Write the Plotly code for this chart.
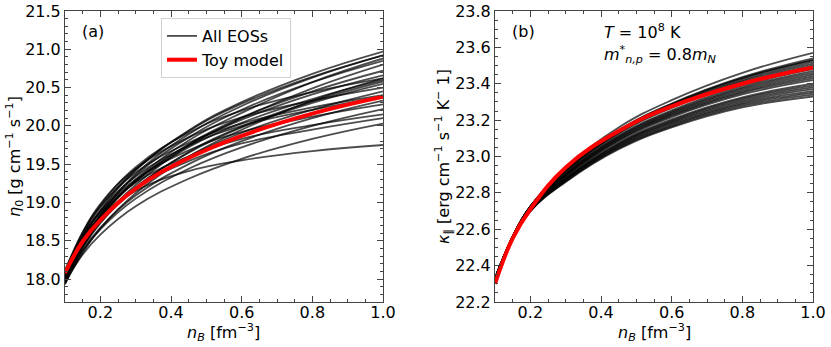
import plotly.graph_objects as go

# ---------------- data ----------------
n_B = [0.10, 0.15, 0.20, 0.30, 0.45, 0.60, 0.80, 1.00]

# panel (a): log10 shear viscosity eta_0, one list per EOS
eta_eos = [
    [18.00, 18.52, 18.89, 19.42, 19.94, 20.31, 20.68, 20.97],
    [17.95, 18.47, 18.84, 19.37, 19.89, 20.26, 20.63, 20.92],
    [18.05, 18.47, 18.81, 19.30, 19.81, 20.17, 20.57, 20.88],
    [17.98, 18.49, 18.84, 19.35, 19.85, 20.21, 20.57, 20.85],
    [18.00, 18.42, 18.76, 19.23, 19.74, 20.10, 20.49, 20.80],
    [17.96, 18.45, 18.79, 19.28, 19.76, 20.11, 20.45, 20.72],
    [18.03, 18.49, 18.82, 19.28, 19.75, 20.08, 20.41, 20.66],
    [17.94, 18.34, 18.66, 19.12, 19.60, 19.95, 20.33, 20.62],
    [18.06, 18.51, 18.83, 19.27, 19.72, 20.04, 20.35, 20.60],
    [17.97, 18.42, 18.75, 19.20, 19.65, 19.98, 20.30, 20.55],
    [18.08, 18.61, 18.98, 19.44, 19.85, 20.11, 20.33, 20.50],
    [18.00, 18.43, 18.74, 19.17, 19.60, 19.91, 20.21, 20.45],
    [18.10, 18.61, 18.95, 19.39, 19.78, 20.03, 20.24, 20.40],
    [17.95, 18.37, 18.67, 19.09, 19.50, 19.80, 20.10, 20.33],
    [18.05, 18.54, 18.88, 19.30, 19.68, 19.92, 20.12, 20.28],
    [17.98, 18.37, 18.65, 19.05, 19.44, 19.72, 20.00, 20.22],
    [18.12, 18.57, 18.87, 19.26, 19.60, 19.83, 20.01, 20.15],
    [18.02, 18.48, 18.79, 19.19, 19.54, 19.77, 19.95, 20.10],
    [17.96, 18.32, 18.58, 18.95, 19.31, 19.57, 19.83, 20.03],
    [18.04, 18.50, 18.81, 19.15, 19.41, 19.55, 19.67, 19.75],
    [17.99, 18.57, 18.96, 19.46, 19.91, 20.20, 20.44, 20.62],
    [18.07, 18.57, 18.93, 19.43, 19.93, 20.29, 20.64, 20.92],
    [18.01, 18.53, 18.89, 19.34, 19.74, 20.00, 20.21, 20.38],
    [17.93, 18.40, 18.73, 19.19, 19.66, 19.99, 20.32, 20.58],
]
eta_toy = [18.08, 18.49, 18.77, 19.18, 19.58, 19.87, 20.16, 20.38]

# panel (b): log10 thermal conductivity kappa_par, one list per EOS
kap_eos = [
    [22.320, 22.560, 22.725, 22.940, 23.160, 23.310, 23.460, 23.57],
    [22.320, 22.560, 22.725, 22.930, 23.145, 23.291, 23.436, 23.54],
    [22.320, 22.560, 22.725, 22.926, 23.140, 23.285, 23.428, 23.53],
    [22.320, 22.560, 22.725, 22.923, 23.135, 23.279, 23.420, 23.52],
    [22.320, 22.560, 22.725, 22.920, 23.130, 23.273, 23.413, 23.51],
    [22.320, 22.560, 22.725, 22.917, 23.125, 23.267, 23.405, 23.50],
    [22.325, 22.555, 22.715, 22.910, 23.115, 23.254, 23.389, 23.48],
    [22.325, 22.555, 22.715, 22.903, 23.105, 23.241, 23.373, 23.46],
    [22.325, 22.555, 22.715, 22.900, 23.100, 23.235, 23.365, 23.45],
    [22.325, 22.555, 22.715, 22.897, 23.095, 23.229, 23.357, 23.44],
    [22.325, 22.555, 22.715, 22.894, 23.090, 23.223, 23.350, 23.43],
    [22.330, 22.555, 22.705, 22.890, 23.085, 23.216, 23.341, 23.42],
    [22.330, 22.555, 22.705, 22.883, 23.075, 23.204, 23.325, 23.40],
    [22.330, 22.555, 22.705, 22.877, 23.065, 23.192, 23.310, 23.38],
    [22.330, 22.555, 22.705, 22.874, 23.060, 23.186, 23.302, 23.37],
    [22.330, 22.550, 22.700, 22.870, 23.055, 23.179, 23.294, 23.36],
    [22.330, 22.550, 22.700, 22.867, 23.050, 23.172, 23.286, 23.35],
    [22.330, 22.550, 22.700, 22.863, 23.045, 23.166, 23.278, 23.34],
    [22.330, 22.550, 22.700, 22.860, 23.040, 23.160, 23.270, 23.33],
    [22.325, 22.555, 22.715, 22.906, 23.110, 23.247, 23.380, 23.47],
    [22.320, 22.560, 22.725, 22.928, 23.142, 23.288, 23.432, 23.53],
    [22.330, 22.555, 22.705, 22.880, 23.070, 23.198, 23.318, 23.39],
]
kap_toy = [22.30, 22.55, 22.71, 22.94, 23.14, 23.275, 23.40, 23.49]

x_ticks = [0.2, 0.4, 0.6, 0.8, 1.0]
x_ticklabels = ["0.2", "0.4", "0.6", "0.8", "1.0"]
y1_ticks = [18.0, 18.5, 19.0, 19.5, 20.0, 20.5, 21.0, 21.5]
y2_ticks = [22.2, 22.4, 22.6, 22.8, 23.0, 23.2, 23.4, 23.6, 23.8]

# ---------------- figure ----------------
FONT = "DejaVu Sans"
FS = 16
EOS_COLOR = "rgba(0,0,0,0.7)"
TOY_COLOR = "#ff0000"
W, H = 831, 347

fig = go.Figure()

for i, ys in enumerate(eta_eos):
    fig.add_trace(go.Scatter(x=n_B, y=ys, mode="lines",
                             line=dict(color=EOS_COLOR, width=1.8, shape="spline", smoothing=1.2),
                             name="All EOSs", showlegend=(i == 0), legendgroup="eos", xaxis="x", yaxis="y"))
fig.add_trace(go.Scatter(x=n_B, y=eta_toy, mode="lines",
                         line=dict(color=TOY_COLOR, width=4, shape="spline", smoothing=1.2),
                         name="Toy model", showlegend=True, xaxis="x", yaxis="y"))

for ys in kap_eos:
    fig.add_trace(go.Scatter(x=n_B, y=ys, mode="lines",
                             line=dict(color=EOS_COLOR, width=1.8, shape="spline", smoothing=1.2),
                             showlegend=False, xaxis="x2", yaxis="y2"))
fig.add_trace(go.Scatter(x=n_B, y=kap_toy, mode="lines",
                         line=dict(color=TOY_COLOR, width=4, shape="spline", smoothing=1.2),
                         showlegend=False, xaxis="x2", yaxis="y2"))

axis_common = dict(
    showline=True, linecolor="#444", linewidth=1, mirror="ticks",
    ticks="inside", ticklen=6, tickwidth=1, tickcolor="#444",
    showgrid=False, zeroline=False,
    tickfont=dict(family=FONT, size=FS, color="black"),
    automargin=False,
)
minor_x = dict(dtick=0.05, tick0=0, ticks="inside", ticklen=3, tickcolor="#444")

fig.update_layout(
    width=W, height=H,
    margin=dict(l=0, r=0, t=0, b=0),
    paper_bgcolor="white", plot_bgcolor="white",
    font=dict(family=FONT, size=FS, color="black"),
    xaxis=dict(domain=[65 / W, 383 / W], range=[0.1, 1.0], tickvals=x_ticks, ticktext=x_ticklabels,
               minor=minor_x, anchor="y", ticklabelstandoff=-4, **axis_common),
    yaxis=dict(domain=[1 - 302 / H, 1 - 11 / H], range=[17.7, 21.5], tickvals=y1_ticks,
               ticktext=[f"{v:.1f}" for v in y1_ticks],
               minor=dict(dtick=0.1, tick0=0, ticks="inside", ticklen=3, tickcolor="#444"),
               anchor="x", **axis_common),
    xaxis2=dict(domain=[495 / W, 813 / W], range=[0.1, 1.0], tickvals=x_ticks, ticktext=x_ticklabels,
                minor=minor_x, anchor="y2", ticklabelstandoff=-4, **axis_common),
    yaxis2=dict(domain=[1 - 302 / H, 1 - 11 / H], range=[22.2, 23.8], tickvals=y2_ticks,
                ticktext=[f"{v:.1f}" for v in y2_ticks],
                minor=dict(dtick=0.05, tick0=0, ticks="inside", ticklen=3, tickcolor="#444"),
                anchor="x2", **axis_common),
    legend=dict(x=161 / W, y=1 - 18 / H, xanchor="left", yanchor="top",
                bgcolor="rgba(255,255,255,0.9)", bordercolor="#d0d0d0", borderwidth=1,
                font=dict(family=FONT, size=FS), itemwidth=30, tracegroupgap=0),
)

xt = "<i>n</i><sub><i>B</i></sub> [fm<sup>−3</sup>]"
# (text, x px, y px, anchor, angle)
texts = [
    ("(a)", 80, 32, "left", 0),
    ("(b)", 510, 32, "left", 0),
    ("<i>T</i> = 10<sup>8</sup> K", 602, 32, "left", 0),
    ("<i>m</i><sup>*</sup><sub><i>n,p</i></sub> = 0.8<i>m</i><sub><i>N</i></sub>", 602, 54, "left", 0),
    (xt, 224, 332, "center", 0),
    (xt, 654, 332, "center", 0),
    ("<i>η</i><sub>0</sub> [g cm<sup>−1</sup> s<sup>−1</sup>]", 15, 157, "center", -90),
    ("<i>κ</i><sub>∥</sub> [erg cm<sup>−1</sup> s<sup>−1</sup> K<sup>−</sup> 1]", 444, 157, "center", -90),
]
fig.layout.annotations = [
    dict(text=t, x=x / W, y=1 - y / H, xref="paper", yref="paper", xanchor=xa, yanchor="middle",
         textangle=ang, showarrow=False, font=dict(family=FONT, size=FS, color="black"))
    for t, x, y, xa, ang in texts
]

fig.write_html("out.html", config={"displayModeBar": False},
               post_script="document.body.style.margin='0';")
